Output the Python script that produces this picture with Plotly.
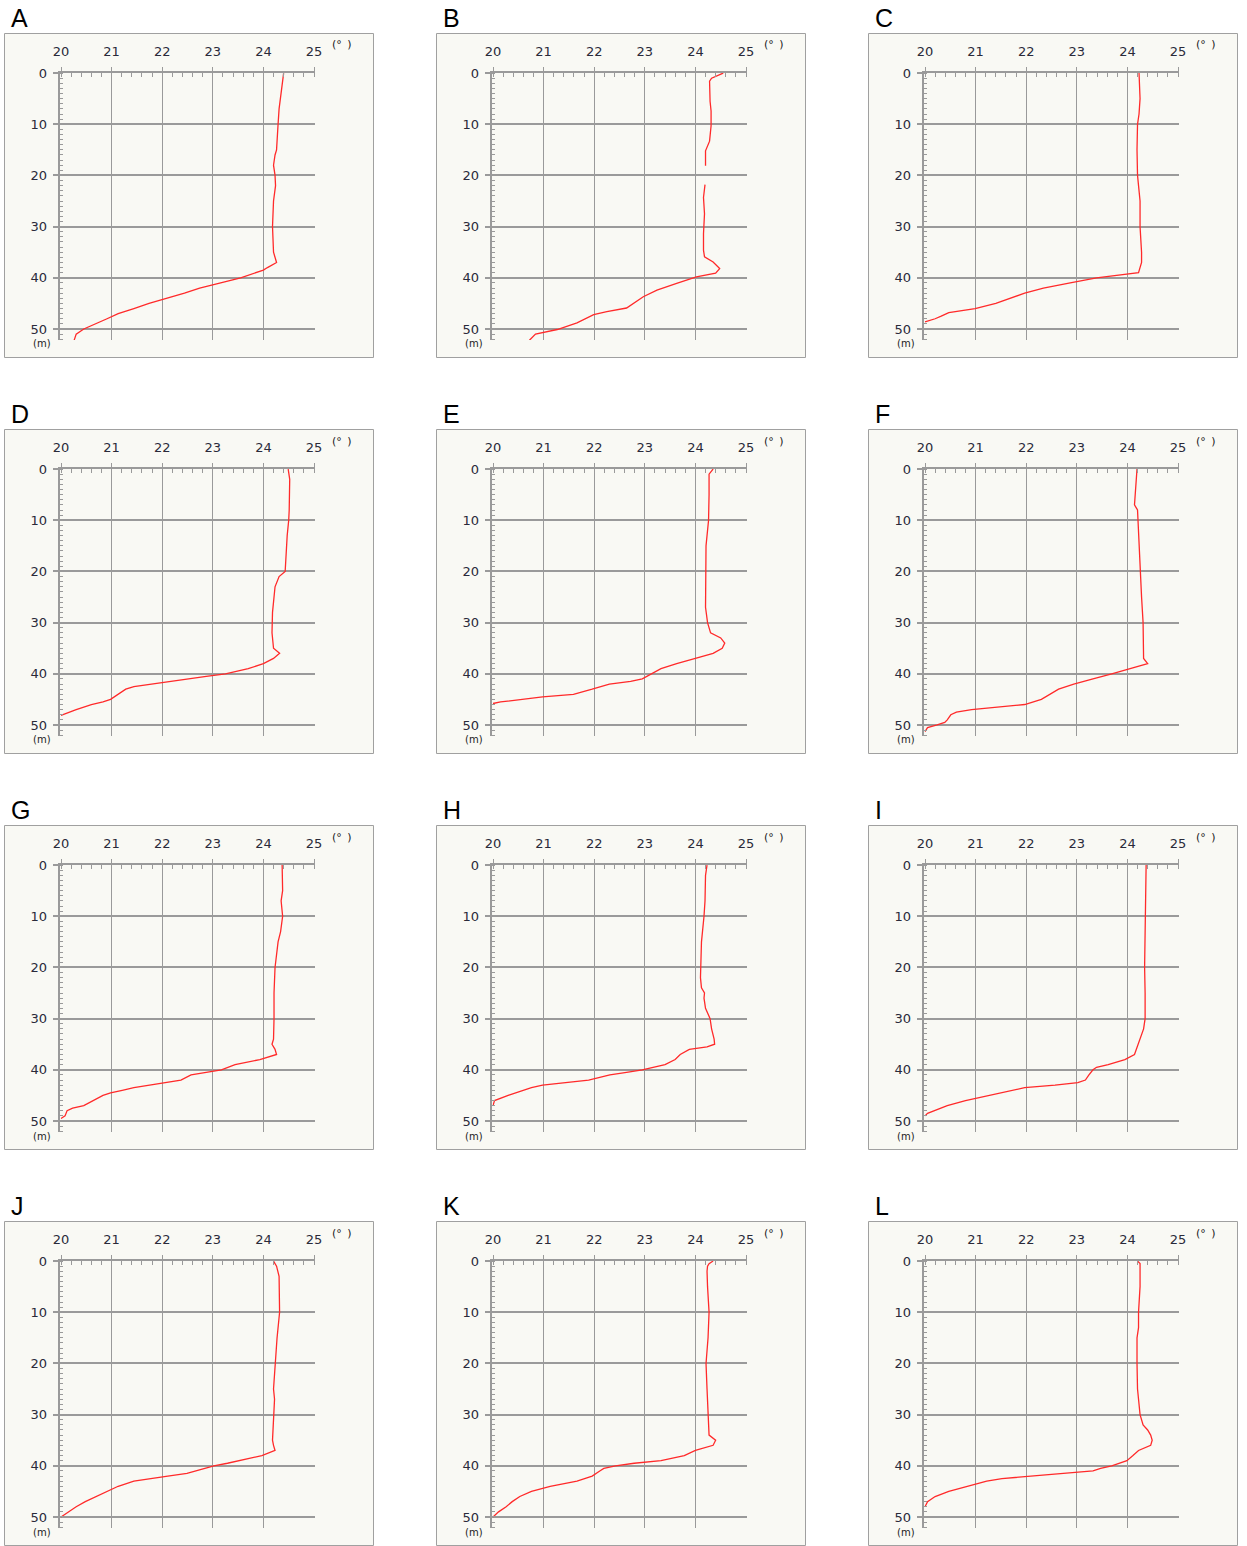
import plotly.graph_objects as go

# ---------------- data (temperature °C vs depth m) ----------------
labels = ["A", "B", "C", "D", "E", "F", "G", "H", "I", "J", "K", "L"]

A_depth = [0, 7, 10, 15, 16, 18, 20, 22, 25, 30, 35, 37, 38, 38.5, 40, 41, 42, 43, 44, 45, 46, 47, 48, 49, 50, 51, 52.2]
A_temp = [24.40, 24.31, 24.29, 24.26, 24.23, 24.20, 24.23, 24.24, 24.20, 24.18, 24.20, 24.26, 24.08, 24.00, 23.55, 23.12, 22.74, 22.44, 22.08, 21.74, 21.44, 21.13, 20.91, 20.68, 20.45, 20.30, 20.26]

B_depth = [0, 1, 1.6, 5.5, 7.4, 10.3, 13.3, 15.2, 18.1, None, 21.8, 24.3, 27.5, 31.4, 34.6, 35.9, 36.9, 38.2, 39.1, 39.8, 41.1, 42.4, 43.7, 45, 45.9, 46.6, 47.2, 48.8, 50.1, 51, 52.2]
B_temp = [24.55, 24.32, 24.28, 24.29, 24.31, 24.31, 24.28, 24.20, 24.20, None, 24.19, 24.16, 24.18, 24.16, 24.16, 24.18, 24.35, 24.48, 24.40, 24.02, 23.63, 23.24, 22.97, 22.78, 22.64, 22.25, 21.99, 21.66, 21.27, 20.84, 20.72]

C_depth = [0, 5, 8, 10, 15, 20, 25, 30, 35, 37, 39, 39.5, 40, 41, 42, 43, 44, 45, 46, 46.8, 47.5, 48, 48.6]
C_temp = [24.23, 24.25, 24.23, 24.20, 24.19, 24.20, 24.25, 24.25, 24.28, 24.28, 24.22, 23.77, 23.39, 22.87, 22.34, 21.97, 21.70, 21.40, 20.99, 20.47, 20.32, 20.20, 20.00]

D_depth = [0, 2, 8, 10, 13, 18, 20, 21, 23, 28, 32, 35, 36, 37, 38, 39, 40, 40.5, 41, 41.5, 42, 42.5, 43, 44, 45, 45.5, 46, 47, 48.1]
D_temp = [24.49, 24.52, 24.51, 24.50, 24.47, 24.44, 24.43, 24.31, 24.23, 24.18, 24.17, 24.20, 24.32, 24.20, 24.00, 23.70, 23.25, 22.87, 22.49, 22.11, 21.81, 21.44, 21.28, 21.13, 20.98, 20.83, 20.60, 20.30, 20.00]

E_depth = [0, 1, 5, 10, 15, 20, 27, 30, 32, 33, 34, 35, 36, 37, 38, 39, 40, 41, 41.5, 42, 43, 44, 44.5, 45, 45.5, 45.8]
E_temp = [24.35, 24.27, 24.27, 24.26, 24.21, 24.20, 24.20, 24.24, 24.30, 24.50, 24.58, 24.53, 24.35, 24.00, 23.63, 23.32, 23.13, 22.95, 22.72, 22.30, 21.96, 21.59, 20.98, 20.53, 20.15, 20.00]

F_depth = [0, 7, 8, 15, 20, 25, 30, 35, 37, 38, 39, 40, 41, 42, 43, 44, 45, 46, 46.5, 47, 47.5, 48, 49, 49.5, 50, 50.5, 51.3]
F_temp = [24.19, 24.14, 24.20, 24.23, 24.25, 24.28, 24.31, 24.31, 24.32, 24.40, 24.07, 23.69, 23.32, 22.94, 22.64, 22.46, 22.30, 21.97, 21.49, 20.92, 20.62, 20.51, 20.44, 20.39, 20.24, 20.05, 20.00]

G_depth = [0, 5, 7, 10, 13, 15, 20, 25, 30, 34, 35, 36, 37, 38, 39, 40, 40.5, 41, 42, 42.5, 43, 43.5, 44, 44.5, 45, 46, 47, 47.5, 48, 49, 49.5]
G_temp = [24.37, 24.38, 24.35, 24.38, 24.34, 24.29, 24.23, 24.21, 24.21, 24.20, 24.17, 24.23, 24.26, 23.93, 23.44, 23.17, 22.87, 22.57, 22.37, 22.04, 21.74, 21.44, 21.21, 20.98, 20.83, 20.65, 20.45, 20.23, 20.12, 20.08, 20.00]

H_depth = [0, 2, 7, 10, 15, 20, 22, 24, 25, 26, 28, 30, 32, 34, 35, 35.5, 36, 37, 38, 39, 40, 40.5, 41, 42, 42.5, 43, 43.5, 44, 45, 46, 47]
H_temp = [24.23, 24.20, 24.19, 24.17, 24.12, 24.11, 24.10, 24.12, 24.18, 24.17, 24.20, 24.29, 24.32, 24.37, 24.38, 24.23, 23.88, 23.70, 23.60, 23.40, 22.95, 22.64, 22.31, 21.89, 21.44, 20.98, 20.76, 20.60, 20.30, 20.03, 20.00]

I_depth = [0, 5, 10, 15, 20, 25, 30, 32, 34, 36, 37, 38, 39, 39.5, 40, 41, 42, 42.5, 43, 43.5, 44, 45, 46, 47, 48, 48.5, 49]
I_temp = [24.37, 24.36, 24.35, 24.34, 24.34, 24.35, 24.35, 24.32, 24.25, 24.19, 24.14, 23.95, 23.62, 23.39, 23.32, 23.24, 23.17, 23.02, 22.57, 21.97, 21.74, 21.22, 20.80, 20.44, 20.17, 20.05, 20.00]

J_depth = [0, 1, 3, 8, 10, 15, 20, 25, 27, 30, 35, 36, 37, 38, 39, 39.5, 40, 41, 41.5, 42, 42.5, 43, 44, 45, 46, 47, 48, 49, 50]
J_temp = [24.20, 24.26, 24.31, 24.32, 24.32, 24.27, 24.23, 24.20, 24.22, 24.20, 24.18, 24.20, 24.23, 23.97, 23.55, 23.29, 23.02, 22.64, 22.49, 22.11, 21.74, 21.44, 21.13, 20.91, 20.68, 20.48, 20.30, 20.15, 20.00]

K_depth = [0, 0.5, 1, 2, 5, 10, 15, 20, 25, 30, 34, 35, 36, 37, 38, 39, 39.5, 40, 40.5, 41, 42, 43, 44, 45, 46, 47, 48, 49, 50]
K_temp = [24.35, 24.27, 24.24, 24.23, 24.24, 24.27, 24.25, 24.21, 24.23, 24.26, 24.27, 24.40, 24.35, 24.00, 23.78, 23.32, 22.79, 22.42, 22.19, 22.11, 21.96, 21.66, 21.13, 20.76, 20.53, 20.38, 20.26, 20.11, 20.00]

L_depth = [0, 0.5, 5, 10, 13, 15, 20, 25, 27, 30, 32, 33, 34, 35, 36, 37, 38, 39, 40, 40.5, 41, 41.5, 42, 42.5, 43, 44, 45, 46, 47, 48]
L_temp = [24.20, 24.25, 24.25, 24.22, 24.22, 24.19, 24.19, 24.20, 24.22, 24.25, 24.31, 24.40, 24.46, 24.49, 24.46, 24.22, 24.11, 23.99, 23.69, 23.47, 23.32, 22.72, 21.97, 21.52, 21.22, 20.84, 20.47, 20.20, 20.05, 20.00]

depths = [A_depth, B_depth, C_depth, D_depth, E_depth, F_depth, G_depth, H_depth, I_depth, J_depth, K_depth, L_depth]
temps = [A_temp, B_temp, C_temp, D_temp, E_temp, F_temp, G_temp, H_temp, I_temp, J_temp, K_temp, L_temp]

x_ticks = [20, 21, 22, 23, 24, 25]
y_ticks = [0, 10, 20, 30, 40, 50]

# ---------------- layout geometry (pixels) ----------------
W, H = 1247, 1546
box_lefts = [4, 436, 868]
box_tops = [33, 429, 825, 1221]
BOX_W, BOX_H = 369, 324
PX_PER_DEG = 50.6
X_RANGE = [19.99, 25.01]
Y_RANGE = [52.15, -0.01]

GRID = "#9a9a9a"
TXT = "#2a2a3a"
BG = "#f9f9f4"
FONT = "DejaVu Sans"

fig = go.Figure()
shapes = []
annotations = []

for i, lab in enumerate(labels):
    r, c = divmod(i, 3)
    bl, bt = box_lefts[c], box_tops[r]
    left = bl + 57 + (X_RANGE[0] - 20) * PX_PER_DEG
    right = bl + 57 + (X_RANGE[1] - 20) * PX_PER_DEG
    top = bt + 40
    bottom = bt + 307
    n = "" if i == 0 else str(i + 1)
    xa, ya = "xaxis" + n, "yaxis" + n
    xr, yr = "x" + n, "y" + n

    fig.add_trace(go.Scatter(
        x=temps[i], y=depths[i], mode="lines",
        line=dict(color="#ff2a2a", width=1.3),
        connectgaps=False, hoverinfo="skip", showlegend=False,
        xaxis=xr, yaxis=yr,
    ))

    fig.layout[xa] = dict(
        domain=[left / W, right / W], anchor=yr, side="top",
        range=X_RANGE, tickvals=x_ticks, ticktext=[str(v) for v in x_ticks],
        showgrid=True, gridcolor=GRID, gridwidth=1.4,
        showline=True, linecolor=GRID, linewidth=2,
        ticks="outside", ticklen=4, tickcolor=GRID, tickwidth=1.4,
        minor=dict(dtick=0.2, tick0=20, ticks="inside", ticklen=4,
                   tickcolor=GRID, tickwidth=1, showgrid=False),
        tickfont=dict(family=FONT, size=13, color=TXT),
        ticklabelstandoff=6, automargin=False,
        zeroline=False, fixedrange=True,
    )
    fig.layout[ya] = dict(
        domain=[1 - bottom / H, 1 - top / H], anchor=xr,
        range=Y_RANGE, tickvals=y_ticks, ticktext=[str(v) for v in y_ticks],
        showgrid=True, gridcolor=GRID, gridwidth=1.8,
        showline=True, linecolor=GRID, linewidth=1.5,
        ticks="outside", ticklen=6, tickcolor=GRID, tickwidth=1.8,
        minor=dict(dtick=1, tick0=0, ticks="inside", ticklen=3,
                   tickcolor=GRID, tickwidth=1, showgrid=False),
        tickfont=dict(family=FONT, size=13, color=TXT),
        ticklabelstandoff=3, automargin=False,
        zeroline=False, fixedrange=True,
    )

    shapes.append(dict(
        type="rect", xref="paper", yref="paper", layer="below",
        x0=(bl + 0.5) / W, x1=(bl + BOX_W + 0.5) / W,
        y0=1 - (bt + BOX_H + 0.5) / H, y1=1 - (bt + 0.5) / H,
        line=dict(color="#a0a0a0", width=1), fillcolor=BG,
    ))
    annotations.append(dict(
        text=lab, xref="paper", yref="paper",
        x=(bl + 5) / W, y=1 - (bt - 15) / H, xanchor="left", yanchor="middle",
        showarrow=False, font=dict(family="Liberation Sans", size=25, color="#000000"),
    ))
    annotations.append(dict(
        text="(m)", xref="paper", yref="paper",
        x=(bl + 38) / W, y=1 - (bt + 311) / H, xanchor="center", yanchor="middle",
        showarrow=False, font=dict(family=FONT, size=10, color="#222222"),
    ))
    annotations.append(dict(
        text="(°\u2002)", xref="paper", yref="paper",
        x=(bl + 338) / W, y=1 - (bt + 12) / H, xanchor="center", yanchor="middle",
        showarrow=False, font=dict(family=FONT, size=11, color="#222222"),
    ))

fig.update_layout(
    width=W, height=H,
    margin=dict(l=0, r=0, t=0, b=0, autoexpand=False),
    paper_bgcolor="white", plot_bgcolor="rgba(0,0,0,0)",
    shapes=shapes, annotations=annotations,
    showlegend=False,
)

fig.write_html(
    "out.html",
    config={"displayModeBar": False},
    post_script="document.body.style.margin='0';document.body.style.overflow='hidden';",
)
